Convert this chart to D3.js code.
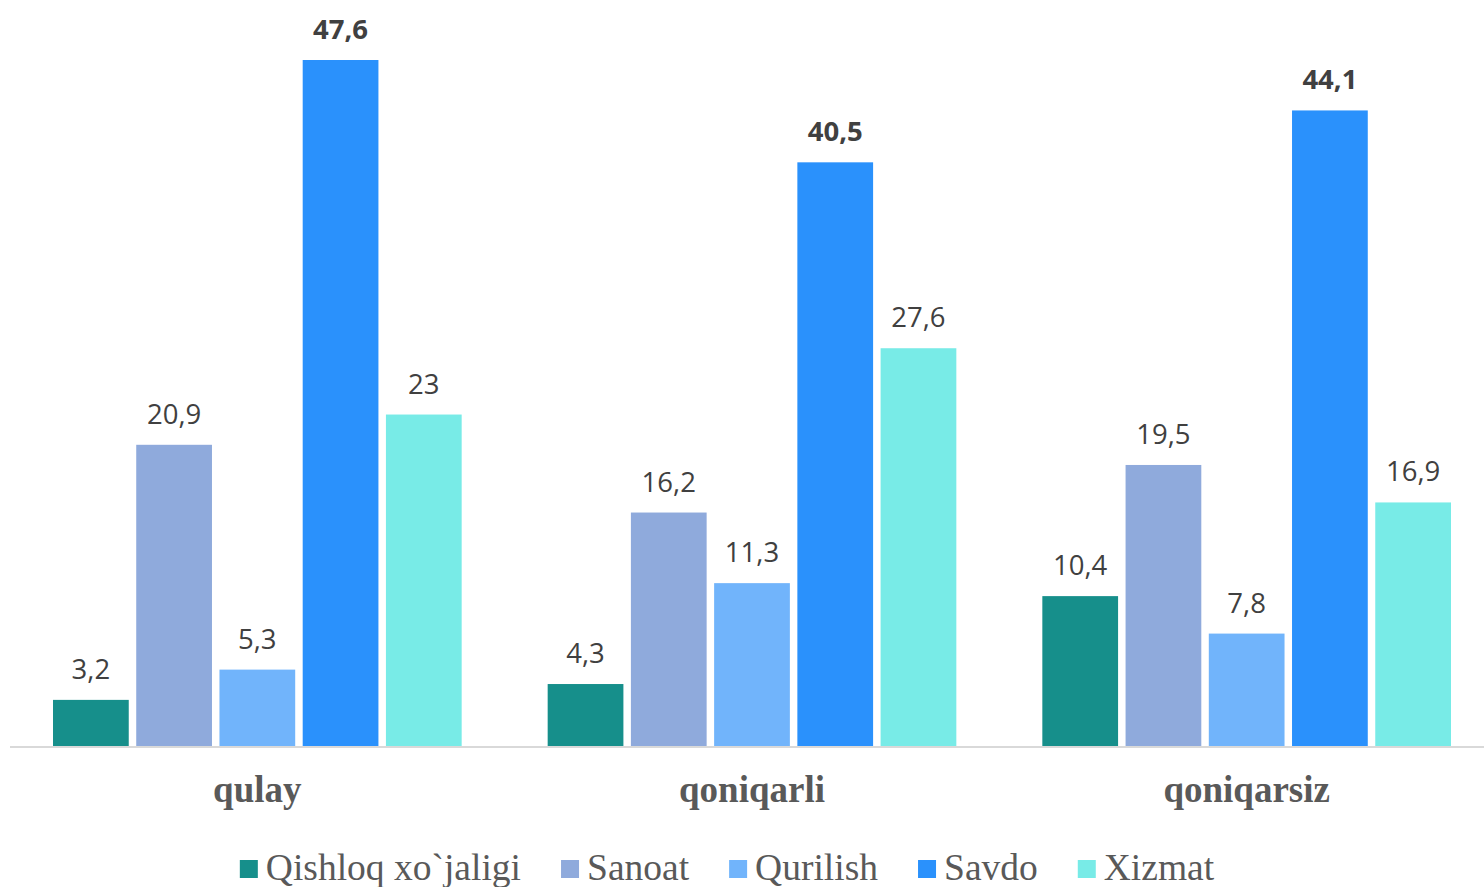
<!DOCTYPE html>
<html>
<head>
<meta charset="utf-8">
<script src="https://cdn.jsdelivr.net/npm/d3@7"></script>
<style>
  body { margin: 0; background: #fff; }
  svg { display: block; }
</style>
</head>
<body>
<svg id="chart"></svg>
<script>
// data
var categories = ["qulay", "qoniqarli", "qoniqarsiz"];
var seriesNames = ["Qishloq xo`jaligi", "Sanoat", "Qurilish", "Savdo", "Xizmat"];
var qishloq = [3.2, 4.3, 10.4];
var sanoat = [20.9, 16.2, 19.5];
var qurilish = [5.3, 11.3, 7.8];
var savdo = [47.6, 40.5, 44.1];
var xizmat = [23, 27.6, 16.9];

var seriesValues = [qishloq, sanoat, qurilish, savdo, xizmat];
var colors = ["#168F8B", "#8FAADC", "#71B4FB", "#2A91FC", "#78EBE7"];

var width = 1484, height = 887;
var baseY = 746;

var svg = d3.select("#chart")
  .attr("width", width)
  .attr("height", height);

var x0 = d3.scaleBand()
  .domain(categories)
  .range([10, 1494])
  .padding(0);

var x1 = d3.scaleBand()
  .domain(seriesNames)
  .range([43, x0.bandwidth() - 43])
  .paddingInner(0.09)
  .paddingOuter(0);

var y = d3.scaleLinear()
  .domain([0, 47.6])
  .range([baseY, 60]);

var fmt = function(v) { return String(v).replace(".", ","); };

// bars
var groups = svg.selectAll("g.grp")
  .data(categories)
  .enter()
  .append("g")
  .attr("class", "grp")
  .attr("transform", function(d) { return "translate(" + x0(d) + ",0)"; });

groups.each(function(cat, ci) {
  var g = d3.select(this);
  var rows = seriesNames.map(function(s, si) {
    return { name: s, value: seriesValues[si][ci], color: colors[si] };
  });

  g.selectAll("rect")
    .data(rows)
    .enter()
    .append("rect")
    .attr("x", function(d) { return x1(d.name); })
    .attr("y", function(d) { return y(d.value); })
    .attr("width", x1.bandwidth())
    .attr("height", function(d) { return baseY - y(d.value); })
    .attr("fill", function(d) { return d.color; });

  g.selectAll("text.val")
    .data(rows)
    .enter()
    .append("text")
    .attr("class", "val")
    .attr("x", function(d) { return x1(d.name) + x1.bandwidth() / 2; })
    .attr("y", function(d) { return y(d.value) - 21; })
    .attr("text-anchor", "middle")
    .style("font-family", "'Open Sans', sans-serif")
    .style("font-size", "27.5px")
    .style("font-weight", function(d) { return d.name === "Savdo" ? "bold" : "normal"; })
    .style("fill", "#404040")
    .text(function(d) { return fmt(d.value); });
});

// axis line
svg.append("line")
  .attr("x1", 10).attr("x2", width)
  .attr("y1", baseY + 1).attr("y2", baseY + 1)
  .attr("stroke", "#d9d9d9")
  .attr("stroke-width", 2);

// category labels
var xAxis = d3.axisBottom(x0).tickSize(0).tickPadding(0);
var axisG = svg.append("g")
  .attr("transform", "translate(0," + baseY + ")")
  .call(xAxis);
axisG.select(".domain").remove();
axisG.selectAll("text")
  .attr("dy", null)
  .attr("y", 56)
  .style("font-family", "'Liberation Serif', 'Times New Roman', serif")
  .style("font-size", "37px")
  .style("font-weight", "bold")
  .style("fill", "#595959");

// legend
var legend = svg.append("g");
var lx = 0;
seriesNames.forEach(function(name, i) {
  var item = legend.append("g").attr("transform", "translate(" + lx + ",0)");
  item.append("rect")
    .attr("x", 0).attr("y", 860)
    .attr("width", 18).attr("height", 18)
    .attr("fill", colors[i]);
  var t = item.append("text")
    .attr("x", 26).attr("y", 880)
    .style("font-family", "'Liberation Serif', 'Times New Roman', serif")
    .style("font-size", "37.5px")
    .style("fill", "#595959")
    .text(name);
  lx += 26 + t.node().getComputedTextLength() + 40;
});
var legW = lx - 40;
legend.attr("transform", "translate(" + (727 - legW / 2) + ",0)");
</script>
</body>
</html>
